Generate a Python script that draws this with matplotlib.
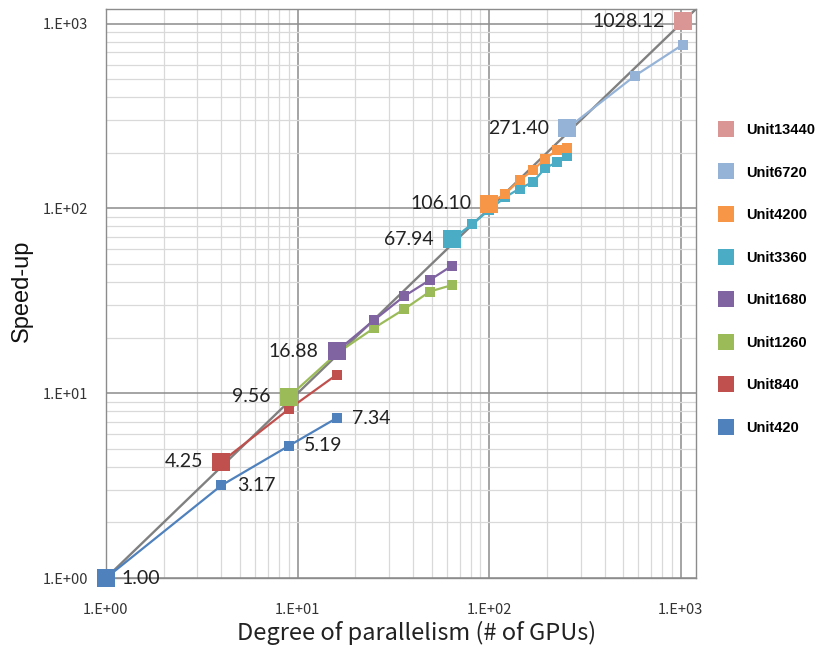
import math
import matplotlib

matplotlib.use('Agg')
import matplotlib.pyplot as plt
from matplotlib.lines import Line2D
from matplotlib.ticker import LogLocator, FixedLocator

# speed-up per configuration
gpus_420 = [1, 4, 9, 16]
speed_420 = [1.00, 3.17, 5.19, 7.34]
gpus_840 = [4, 9, 16]
speed_840 = [4.25, 8.2, 12.6]
gpus_1260 = [9, 16, 25, 36, 49, 64]
speed_1260 = [9.56, 16.4, 22.5, 28.5, 35.5, 38.5]
gpus_1680 = [16, 25, 36, 49, 64]
speed_1680 = [16.88, 24.8, 33.5, 41.0, 49.0]
gpus_3360 = [64, 81, 100, 121, 144, 169, 196, 225, 256]
speed_3360 = [67.94, 82, 98, 115, 128, 139, 165, 178, 191]
gpus_4200 = [100, 121, 144, 169, 196, 225, 256]
speed_4200 = [106.10, 120, 142, 161, 186, 206, 212]
gpus_6720 = [256, 576, 1024]
speed_6720 = [271.40, 522, 770]
gpus_13440 = [1024]
speed_13440 = [1028.12]

ideal_x = [1, 1200]
ideal_y = [1, 1200]

names = ['Unit420', 'Unit840', 'Unit1260', 'Unit1680',
         'Unit3360', 'Unit4200', 'Unit6720', 'Unit13440']
colors = ['#4F81BD', '#C0504D', '#9BBB59', '#8064A2',
          '#4BACC6', '#F79646', '#95B3D7', '#D99694']
series = [(gpus_420, speed_420), (gpus_840, speed_840), (gpus_1260, speed_1260),
          (gpus_1680, speed_1680), (gpus_3360, speed_3360), (gpus_4200, speed_4200),
          (gpus_6720, speed_6720), (gpus_13440, speed_13440)]

fig = plt.figure(figsize=(8.29, 6.46), dpi=100)
ax = fig.add_axes([106 / 829, 1 - 578 / 646, 590 / 829, 569 / 646])
ax.set_xscale('log')
ax.set_yscale('log')
ax.set_xlim(1, 1200)
ax.set_ylim(1, 1200)

ax.xaxis.set_major_locator(FixedLocator([1, 10, 100, 1000]))
ax.yaxis.set_major_locator(FixedLocator([1, 10, 100, 1000]))
ax.xaxis.set_minor_locator(LogLocator(base=10, subs=range(2, 10)))
ax.yaxis.set_minor_locator(LogLocator(base=10, subs=range(2, 10)))
ax.xaxis.set_minor_formatter(plt.NullFormatter())
ax.yaxis.set_minor_formatter(plt.NullFormatter())
fmt = lambda v, p: '1.E+%02d' % round(math.log10(v))
ax.xaxis.set_major_formatter(plt.FuncFormatter(fmt))
ax.yaxis.set_major_formatter(plt.FuncFormatter(fmt))

ax.grid(which='major', color='#8c8c8c', linewidth=1.1)
ax.grid(which='minor', color='#d9d9d9', linewidth=0.9)
ax.set_axisbelow(True)
for s in ax.spines.values():
    s.set_color('#8c8c8c')
    s.set_linewidth(1.0)

tickfam = ['Noto Sans CJK JP', 'DejaVu Sans']
ax.tick_params(which='both', length=0)
ax.tick_params(axis='x', pad=18)
ax.tick_params(axis='y', pad=13)
for lab in ax.get_xticklabels() + ax.get_yticklabels():
    lab.set_fontfamily(tickfam)
    lab.set_fontsize(10.5)
    lab.set_color('#333333')

ax.plot(ideal_x, ideal_y, color='#808080', linewidth=1.7, zorder=2)

labelfont = dict(family=['Lato', 'DejaVu Sans'], fontsize=14, color='#222222')
for (x, y), name, col in zip(series, names, colors):
    ax.plot(x, y, color=col, linewidth=1.6, marker='s', markersize=7,
            markeredgewidth=0, zorder=3, clip_on=False)
    ax.plot(x[:1], y[:1], linestyle='none', marker='s', markersize=12.5,
            color=col, markeredgewidth=0, zorder=4, clip_on=False)
    if name == 'Unit420':
        for xi, yi in zip(x, y):
            ax.annotate('%.2f' % yi, (xi, yi), xytext=(11, 0), textcoords='offset points',
                        ha='left', va='center', zorder=5, **labelfont)
    else:
        ax.annotate('%.2f' % y[0], (x[0], y[0]), xytext=(-13, 0), textcoords='offset points',
                    ha='right', va='center', zorder=5, **labelfont)

ax.set_xlabel('Degree of parallelism (# of GPUs)', family=tickfam,
              fontsize=17, color='#222222', va='center')
ax.xaxis.set_label_coords((417 - 106) / 590, -(633 - 578) / 569)
ax.set_ylabel('Speed-up', family=['Liberation Sans', 'DejaVu Sans'], fontsize=17,
              color='#111111', va='center')
ax.yaxis.set_label_coords(-(106 - 22) / 590, (578 - 291) / 569)

handles = [Line2D([], [], linestyle='none', marker='s', markersize=11,
                  color=c, markeredgewidth=0) for c in colors]
leg = fig.legend(handles[::-1], names[::-1], loc='center left',
                 bbox_to_anchor=(0.867, 1 - 279 / 646), frameon=False,
                 borderpad=0, borderaxespad=0, handlelength=1.0, handletextpad=0.9,
                 labelspacing=1.96, prop={'family': ['Liberation Sans', 'DejaVu Sans'],
                                          'weight': 'bold', 'size': 10.5})

fig.savefig('out.png', dpi=100)
